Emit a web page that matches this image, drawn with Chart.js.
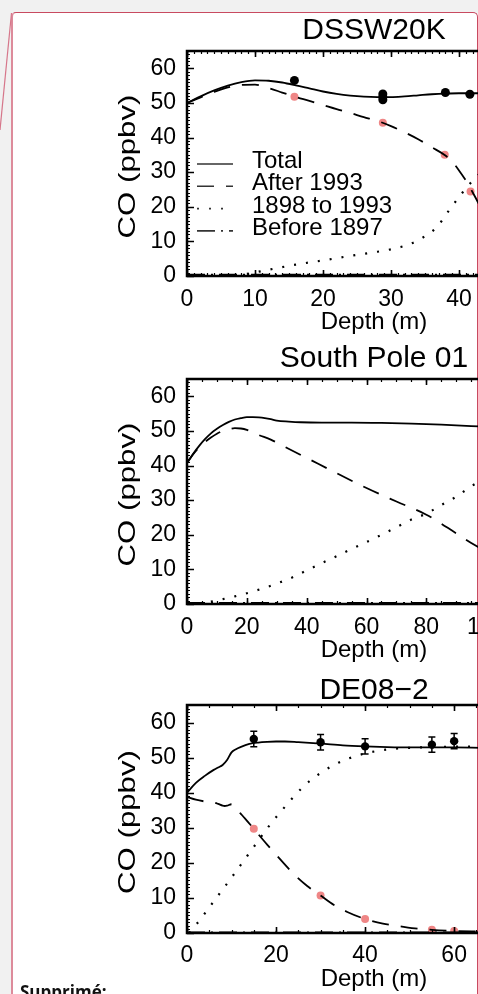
<!DOCTYPE html>
<html>
<head>
<meta charset="utf-8">
<script src="https://cdn.jsdelivr.net/npm/chart.js@4.4.1/dist/chart.umd.min.js"></script>
<style>
  html, body { margin: 0; padding: 0; width: 478px; height: 994px; overflow: hidden; background: #f1f1f1; }
  #sheet {
    position: absolute; left: 11px; top: 12px; width: 464px; height: 1100px;
    background: #fff; border-top: 1.5px solid #c84a60; border-right: 1.5px solid #c84a60;
    border-left: 2px solid #dd8b9b; border-radius: 5px 5px 0 0;
  }
  canvas.panel { position: absolute; left: 100px; }
  #note { position: absolute; left: 20px; top: 980px; font: 700 17px 'Open Sans', 'Noto Sans', sans-serif; color: #111; }
  #tail { position: absolute; left: 0; top: 0; }
</style>
</head>
<body>
<div id="sheet"></div>
<svg id="tail" width="20" height="200"><line x1="11.5" y1="13" x2="0" y2="130" stroke="#d6768a" stroke-width="1.2"/></svg>
<canvas id="dssw" class="panel" width="548" height="322" style="top:14px"></canvas>
<canvas id="spole" class="panel" width="548" height="322" style="top:342px"></canvas>
<canvas id="de08" class="panel" width="548" height="318" style="top:675px"></canvas>
<div id="note">Supprimé:</div>
<script>
// ---- CO contributions by depth (ppbv) ----
const seriesLabels = ['Total', 'After 1993', '1898 to 1993', 'Before 1897'];

// DSSW20K
const dsswTotalDepth = [0, 2, 4, 6, 8, 10, 12, 14, 16, 18, 20, 22, 24, 26, 28, 30, 32, 34, 36, 38, 40, 42, 44];
const dsswTotal      = [50.0, 51.9, 53.6, 55.0, 56.0, 56.5, 56.4, 55.9, 55.1, 54.2, 53.3, 52.6, 52.1, 51.8, 51.7, 51.7, 51.9, 52.2, 52.5, 52.7, 52.8, 52.8, 52.8];
const dsswAfterDepth = [0, 2, 4, 6, 8, 10, 12, 14, 16, 18, 20, 22, 24, 26, 28, 30, 32, 34, 36, 38, 39, 40, 41, 42, 43, 44];
const dsswAfter      = [50.0, 51.6, 53.2, 54.5, 55.2, 55.3, 54.3, 53.0, 51.7, 50.6, 49.4, 48.2, 47.1, 45.9, 44.8, 43.3, 41.5, 39.5, 37.2, 34.8, 33.0, 30.5, 27.6, 24.2, 20.5, 16.5];
const dsswMidDepth   = [0, 4, 8, 12, 16, 20, 24, 28, 30, 32, 34, 35, 36, 37, 38, 39, 40, 41, 42, 43, 44];
const dsswMid        = [0, 0, 0.4, 1.8, 3.3, 4.5, 5.8, 7.0, 7.7, 8.7, 10.3, 11.5, 12.8, 14.7, 17.5, 20.2, 22.8, 25.3, 27.5, 29.5, 31.5];
const dsswBeforeDepth = [0, 44];
const dsswBefore      = [0.4, 0.4];
const dsswObsDepth   = [15.8, 28.8, 28.8, 28.8, 38.0, 41.6];
const dsswObs        = [56.5, 52.6, 51.7, 50.9, 53.0, 52.5];
const dsswRecentDepth = [15.8, 28.8, 37.9, 41.7];
const dsswRecent      = [51.8, 44.3, 35.0, 24.4];

// South Pole 01
const spTotalDepth = [0, 2, 4, 6, 8, 10, 12, 14, 16, 18, 20, 22, 24, 26, 28, 30, 34, 38, 45, 55, 65, 75, 85, 95, 100];
const spTotal      = [40.7, 43.3, 45.6, 47.6, 49.3, 50.6, 51.7, 52.6, 53.3, 53.7, 54.0, 54.0, 53.9, 53.7, 53.4, 53.0, 52.7, 52.5, 52.4, 52.4, 52.3, 52.1, 51.8, 51.4, 51.2];
const spAfterDepth = [0, 2, 4, 6, 8, 10, 12, 14, 16, 18, 20, 24, 28, 32, 40, 50, 60, 70, 80, 90, 95, 100];
const spAfter      = [40.7, 43.2, 45.2, 46.8, 48.1, 49.2, 50.0, 50.5, 50.8, 50.7, 50.3, 48.8, 47.5, 45.7, 42.2, 37.8, 33.5, 29.6, 25.8, 20.4, 17.6, 15.2];
const spMidDepth   = [0, 4, 8, 12, 16, 20, 25, 30, 35, 40, 45, 50, 55, 60, 65, 70, 75, 80, 85, 90, 95, 100];
const spMid        = [0, 0.2, 0.7, 1.4, 2.2, 3.1, 4.4, 5.9, 7.6, 9.7, 11.8, 13.8, 15.9, 17.9, 20.0, 22.2, 24.4, 26.1, 28.6, 31.0, 34.0, 36.5];
const spBeforeDepth = [0, 100];
const spBefore      = [0.3, 0.3];

// DE08-2
const deTotalDepth = [0, 2, 4, 6, 7, 8, 9, 10, 11, 12, 14, 16, 18, 20, 22, 25, 30, 35, 40, 45, 50, 55, 60, 66];
const deTotal      = [40.0, 42.8, 44.8, 46.5, 47.2, 47.9, 49.3, 51.5, 52.4, 53.0, 53.9, 54.3, 54.5, 54.6, 54.6, 54.4, 54.0, 53.5, 53.2, 53.0, 52.9, 52.9, 52.9, 52.8];
const deAfterDepth = [0, 2, 4, 6, 7, 8, 8.5, 9, 10, 11, 12, 13, 15, 18, 21, 24, 27, 30, 33, 36, 40, 44, 48, 52, 55, 60, 66];
const deAfter      = [38.8, 38.0, 37.5, 37.2, 36.8, 36.3, 36.2, 36.3, 36.7, 35.5, 34.1, 32.7, 29.7, 25.2, 20.9, 16.8, 13.4, 10.7, 8.0, 6.0, 4.0, 2.7, 1.9, 1.2, 0.9, 0.6, 0.4];
const deMidDepth   = [0.5, 2, 4, 6, 8, 10, 12, 14, 16, 18, 20, 22, 24, 26, 28, 30, 33, 36, 40, 45, 50, 55, 60, 66];
const deMid        = [0, 2.3, 5.6, 9.0, 12.4, 15.8, 19.3, 22.8, 26.3, 29.8, 33.0, 36.0, 38.9, 41.6, 43.8, 45.6, 47.9, 49.6, 51.2, 52.3, 52.8, 53.0, 53.1, 53.2];
const deBeforeDepth = [0, 66];
const deBefore      = [0.2, 0.2];
const deObsDepth   = [15, 30, 40, 55, 60];
const deObs        = [55.3, 54.4, 53.2, 53.7, 54.7];
const deObsErr     = [2.2, 2.2, 2.2, 2.2, 2.2];
const deRecentDepth = [15, 30, 40, 55, 60];
const deRecent      = [29.7, 10.7, 4.0, 0.9, 0.6];

// ---- drawing ----
const FONT = "'Liberation Sans', Arial, Helvetica, sans-serif";
const INK = '#000';
const PINK = '#ef8686';
const DASHES = [[], [17, 12], [2, 10], [18, 6, 2, 6]];

function pairs(xs, ys) { return xs.map((x, i) => ({ x, y: ys[i] })); }

function curve(k, xs, ys) {
  return {
    type: 'line', label: seriesLabels[k], data: pairs(xs, ys),
    borderColor: INK, borderWidth: k === 2 ? 2.2 : 1.8, borderDash: DASHES[k],
    borderCapStyle: 'butt', pointRadius: 0, fill: false, cubicInterpolationMode: 'monotone'
  };
}

function dots(label, xs, ys, color, r, err) {
  return {
    type: 'scatter', label, data: pairs(xs, ys), showLine: false,
    pointRadius: r, pointBackgroundColor: color, pointBorderWidth: 0, errorBars: err || null
  };
}

// boxed axes with inward ticks on all sides
const frameTicks = {
  id: 'frameTicks',
  afterDatasetsDraw(chart, args, o) {
    const { ctx, chartArea: a, scales: { x, y } } = chart;
    ctx.save();
    ctx.strokeStyle = INK;
    const xTicks = (step, len, w) => {
      ctx.beginPath(); ctx.lineWidth = w;
      for (let v = x.min; v <= x.max + 1e-6; v += step) {
        const p = Math.round(x.getPixelForValue(v)) + 0.5;
        ctx.moveTo(p, a.bottom); ctx.lineTo(p, a.bottom - len);
        ctx.moveTo(p, a.top); ctx.lineTo(p, a.top + len);
      }
      ctx.stroke();
    };
    const yTicks = (step, len, w) => {
      ctx.beginPath(); ctx.lineWidth = w;
      for (let v = y.min; v <= y.max + 1e-6; v += step) {
        const p = Math.round(y.getPixelForValue(v)) + 0.5;
        ctx.moveTo(a.left, p); ctx.lineTo(a.left + len, p);
        ctx.moveTo(a.right, p); ctx.lineTo(a.right - len, p);
      }
      ctx.stroke();
    };
    xTicks(o.xMinor, 3, 1.2);
    xTicks(o.xMajor, 6, 1.6);
    yTicks(o.yMinor, 3, 1.1);
    yTicks(o.yMajor, 7, 1.6);
    ctx.lineWidth = 2.5;
    ctx.strokeRect(a.left, a.top, a.right - a.left, a.bottom - a.top);
    ctx.restore();
  }
};

// vertical error bars with caps on datasets that carry them
const errorBars = {
  id: 'errorBars',
  afterDatasetsDraw(chart) {
    const { ctx, scales: { y } } = chart;
    chart.data.datasets.forEach((ds, i) => {
      if (!ds.errorBars) return;
      const meta = chart.getDatasetMeta(i);
      ctx.save();
      ctx.strokeStyle = INK; ctx.lineWidth = 1.5;
      meta.data.forEach((pt, j) => {
        const v = ds.data[j].y, e = ds.errorBars[j];
        const t = y.getPixelForValue(v + e), b = y.getPixelForValue(v - e);
        ctx.beginPath();
        ctx.moveTo(pt.x, t); ctx.lineTo(pt.x, b);
        ctx.moveTo(pt.x - 3.5, t); ctx.lineTo(pt.x + 3.5, t);
        ctx.moveTo(pt.x - 3.5, b); ctx.lineTo(pt.x + 3.5, b);
        ctx.stroke();
      });
      ctx.restore();
    });
  }
};

// rotated, widened y-axis caption centred on the plot box
const yCaption = {
  id: 'yCaption',
  afterDraw(chart, args, o) {
    const { ctx, chartArea: a } = chart;
    ctx.save();
    ctx.translate(chart.scales.y.left + o.offset, (a.top + a.bottom) / 2 + o.shift);
    ctx.rotate(-Math.PI / 2);
    ctx.scale(o.stretch, 1);
    ctx.fillStyle = INK; ctx.font = o.size + 'px ' + FONT;
    ctx.textAlign = 'center'; ctx.textBaseline = 'middle';
    ctx.fillText(o.text, 0, 0);
    ctx.restore();
  }
};

// line-style key drawn inside the plot box
const curveKey = {
  id: 'curveKey',
  afterDraw(chart, args, o) {
    if (!o.show) return;
    const { ctx, chartArea: a } = chart;
    ctx.save();
    chart.data.datasets.slice(0, 4).forEach((ds, i) => {
      const ty = a.top + o.top + i * o.step;
      ctx.beginPath();
      ctx.setLineDash(ds.borderDash || []);
      ctx.lineWidth = 1.6; ctx.strokeStyle = '#333';
      ctx.moveTo(a.left + o.lineFrom, ty + 2.5); ctx.lineTo(a.left + o.lineTo, ty + 2.5);
      ctx.stroke();
      ctx.setLineDash([]);
      ctx.fillStyle = INK; ctx.font = '24px ' + FONT; ctx.textBaseline = 'middle'; ctx.textAlign = 'left';
      ctx.fillText(ds.label, a.left + o.textX, ty);
    });
    ctx.restore();
  }
};

function panel(id, title, xMax, xStep, xMinor, titlePad, tickPad, datasets, showKey) {
  const tickFont = { family: FONT, size: 23, lineHeight: 1 };
  const labelFont = { family: FONT, size: 24, lineHeight: 1 };
  return new Chart(document.getElementById(id), {
    type: 'line',
    data: { datasets },
    options: {
      responsive: false, animation: false, devicePixelRatio: 1,
      layout: { padding: 0 },
      plugins: {
        legend: { display: false }, tooltip: { enabled: false },
        title: { display: true, text: title, color: INK, font: { family: FONT, size: 30, weight: 'normal', lineHeight: 1 }, padding: titlePad },
        frameTicks: { xMinor, xMajor: xStep, yMinor: 1, yMajor: 10 },
        yCaption: { text: 'CO (ppbv)', size: 24, stretch: 1.3, offset: 28, shift: 3 },
        curveKey: { show: showKey, top: 110.5, step: 22.3, lineFrom: 10, lineTo: 46, textX: 65 }
      },
      scales: {
        x: {
          type: 'linear', min: 0, max: xMax,
          grid: { display: false, drawTicks: false }, border: { display: false },
          ticks: { stepSize: xStep, includeBounds: false, padding: tickPad, color: INK, font: tickFont, maxRotation: 0 },
          title: { display: true, text: 'Depth (m)', color: INK, font: labelFont, padding: { top: 0, bottom: 2 } },
          afterFit(s) { s.height = 60; }
        },
        y: {
          position: 'left', min: 0, max: 65,
          grid: { display: false, drawTicks: false }, border: { display: false },
          ticks: { stepSize: 10, includeBounds: false, padding: 11, color: INK, font: tickFont },
          afterFit(s) { s.width = 87; }
        },
        yRight: {
          position: 'right', min: 0, max: 65,
          grid: { display: false, drawTicks: false }, border: { display: false },
          ticks: { display: false },
          afterFit(s) { s.width = 87; }
        }
      }
    },
    plugins: [frameTicks, errorBars, yCaption, curveKey]
  });
}

panel('dssw', 'DSSW20K', 55, 10, 1, { top: 2, bottom: 5 }, 12.5, [
  curve(0, dsswTotalDepth, dsswTotal),
  curve(1, dsswAfterDepth, dsswAfter),
  curve(2, dsswMidDepth, dsswMid),
  curve(3, dsswBeforeDepth, dsswBefore),
  dots('Measured', dsswObsDepth, dsswObs, INK, 4.5),
  dots('After 1993 points', dsswRecentDepth, dsswRecent, PINK, 4)
], true);

panel('spole', 'South Pole 01', 125, 20, 5, { top: 2, bottom: 5 }, 12, [
  curve(0, spTotalDepth, spTotal),
  curve(1, spAfterDepth, spAfter),
  curve(2, spMidDepth, spMid),
  curve(3, spBeforeDepth, spBefore)
], false);

panel('de08', 'DE08\u22122', 84, 20, 5, { top: 1, bottom: -1 }, 11, [
  curve(0, deTotalDepth, deTotal),
  curve(1, deAfterDepth, deAfter),
  curve(2, deMidDepth, deMid),
  curve(3, deBeforeDepth, deBefore),
  dots('Measured', deObsDepth, deObs, INK, 4.2, deObsErr),
  dots('After 1993 points', deRecentDepth, deRecent, PINK, 4)
], false);
</script>
</body>
</html>
